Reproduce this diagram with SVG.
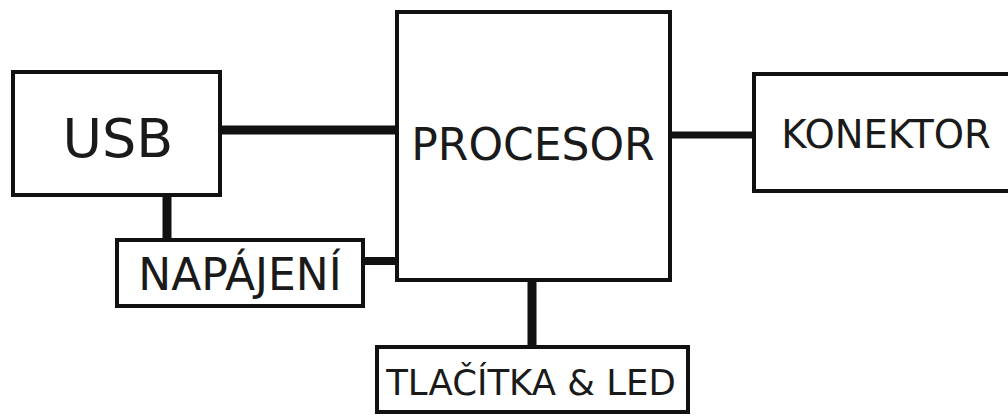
<svg xmlns="http://www.w3.org/2000/svg" width="1008" height="417" viewBox="0 0 1008 417">
<style>
.box{fill:#fff;stroke:#111;stroke-width:4}
.lbl{font-family:"DejaVu Sans","Liberation Sans",sans-serif;fill:#1a1a1a;text-anchor:middle}
.wire{stroke:#111;fill:none}
</style>
<rect width="1008" height="417" fill="#fff"/>
<g id="connectors">
<line class="wire" x1="220" y1="130" x2="397" y2="130" stroke-width="9"/>
<line class="wire" x1="670" y1="135" x2="754" y2="135" stroke-width="7"/>
<line class="wire" x1="167" y1="195" x2="167" y2="240" stroke-width="9"/>
<line class="wire" x1="363" y1="261" x2="397" y2="261" stroke-width="8"/>
<line class="wire" x1="532" y1="280" x2="532" y2="347" stroke-width="9"/>
</g>
<g id="usb">
<rect class="box" x="13" y="72" width="207" height="123"/>
<text class="lbl" x="118" y="157" font-size="54">USB</text>
</g>
<g id="procesor">
<rect class="box" x="397" y="12" width="273" height="268"/>
<text class="lbl" x="533" y="160" font-size="44">PROCESOR</text>
</g>
<g id="konektor">
<rect class="box" x="754" y="74" width="270" height="117"/>
<text class="lbl" x="886" y="148" font-size="38.5">KONEKTOR</text>
</g>
<g id="napajeni">
<rect class="box" x="117" y="240" width="246" height="66"/>
<text class="lbl" x="240" y="290" font-size="44">NAPÁJENÍ</text>
</g>
<g id="tlacitka">
<rect class="box" x="377" y="347" width="311" height="65"/>
<text class="lbl" x="531" y="395" font-size="35.5">TLAČÍTKA &amp; LED</text>
</g>
</svg>
